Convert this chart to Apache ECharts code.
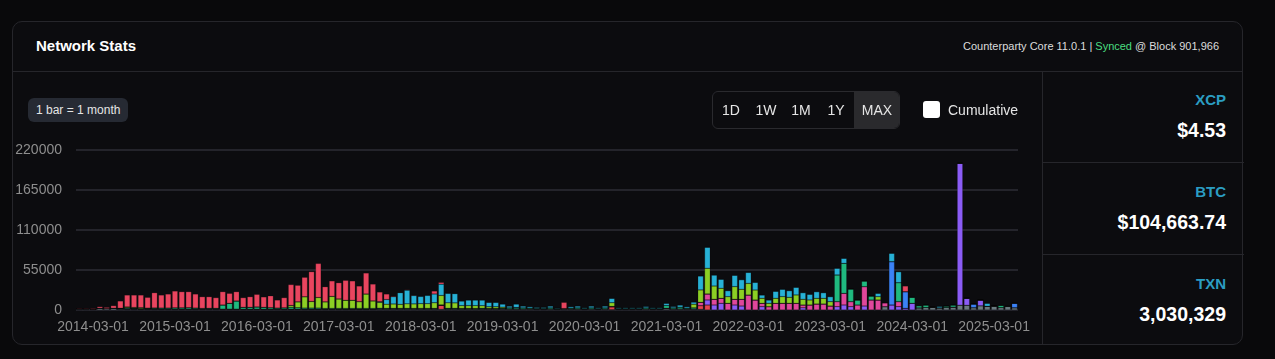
<!DOCTYPE html>
<html>
<head>
<meta charset="utf-8">
<script src="https://cdn.jsdelivr.net/npm/echarts@6/dist/echarts.min.js"></script>
<style>
  html, body { margin: 0; padding: 0; background: #09090b; width: 1275px; height: 359px; overflow: hidden; font-family: "Liberation Sans", Arial, Helvetica, sans-serif; }
  .card { position: absolute; left: 12px; top: 21px; width: 1231px; height: 324px; border: 1px solid #26262b; border-radius: 10px; background: #0c0c0f; box-sizing: border-box; }
  .hdr { position: absolute; left: 0; top: 0; right: 0; height: 49px; border-bottom: 1px solid #26262b; }
  .title { position: absolute; left: 23px; top: 15px; color: #fff; font-weight: bold; font-size: 15px; }
  .status { position: absolute; right: 23px; top: 18px; color: #dcdcdc; font-size: 11px; }
  .status .ok { color: #4ade80; }
  .side { position: absolute; left: 1029px; top: 49px; width: 201px; bottom: 0; border-left: 1px solid #26262b; }
  .cell { position: absolute; left: 0; right: 0; height: 91px; text-align: right; }
  .cell.b { border-top: 1px solid #26262b; }
  .lab { position: absolute; right: 18px; top: 20px; color: #2b9dc2; font-weight: bold; font-size: 15px; }
  .val { position: absolute; right: 18px; top: 48px; color: #fff; font-weight: bold; font-size: 19.5px; }
  .badge { position: absolute; left: 28px; top: 98px; height: 24px; line-height: 24px; padding: 0 8px; background: #262a33; border-radius: 6px; color: #e5e5e5; font-size: 12px; z-index: 2; }
  .btns { position: absolute; left: 712px; top: 91px; width: 188px; height: 38px; border: 1px solid #2a2a2e; border-radius: 6px; box-sizing: border-box; overflow: hidden; z-index: 2; }
  .btn { position: absolute; top: 0; height: 36px; line-height: 36px; color: #e5e5e5; font-size: 14px; text-align: center; }
  .btn.on { background: #2a2a2d; }
  .chk { position: absolute; left: 923px; top: 101px; width: 17px; height: 17px; background: #fff; border-radius: 3px; z-index: 2; }
  .cum { position: absolute; left: 948px; top: 102px; color: #e5e5e5; font-size: 14px; z-index: 2; }
  #chart { position: absolute; left: 0; top: 0; width: 1275px; height: 359px; z-index: 1; }
</style>
</head>
<body>
<div class="card">
  <div class="hdr">
    <div class="title">Network Stats</div>
    <div class="status">Counterparty Core 11.0.1 | <span class="ok">Synced</span> @ Block 901,966</div>
  </div>
  <div class="side">
    <div class="cell" style="top:0"><div class="lab">XCP</div><div class="val">$4.53</div></div>
    <div class="cell b" style="top:91px"><div class="lab">BTC</div><div class="val">$104,663.74</div></div>
    <div class="cell b" style="top:183px"><div class="lab">TXN</div><div class="val">3,030,329</div></div>
  </div>
</div>
<div class="badge">1 bar = 1 month</div>
<div class="btns">
  <div class="btn" style="left:1px;width:34px">1D</div>
  <div class="btn" style="left:35px;width:36px">1W</div>
  <div class="btn" style="left:71px;width:34px">1M</div>
  <div class="btn" style="left:105px;width:36px">1Y</div>
  <div class="btn on" style="left:141px;width:46px">MAX</div>
</div>
<div class="chk"></div>
<div class="cum">Cumulative</div>
<div id="chart"></div>
<script>
// Monthly categories: 2014-01 .. 2025-06 (138 bars)
const categories = [];
for (let y = 2014; y <= 2025; y++) {
  for (let m = 1; m <= 12; m++) {
    if (y === 2025 && m > 6) break;
    categories.push(y + '-' + String(m).padStart(2, '0') + '-01');
  }
}
const yTicks = [0, 55000, 110000, 165000, 220000];

const other = [
1500,1500,1000,2500,2000,2500,1500,1200,1200,1200,
1200,1200,1200,1200,1200,1200,1200,1200,1200,1200,
1200,1200,1200,1200,1200,1200,1200,1200,1200,1200,
1200,1200,1200,1200,1200,1200,1200,1200,1200,1200,
1200,1200,1200,1200,1500,1500,1500,1500,1500,1500,
1500,1500,1500,1000,1500,1500,1500,1500,1500,1500,
1500,1500,1500,1500,1500,1500,1400,1200,1200,1500,
1000,1500,1400,1500,1100,1500,1100,1500,500,1100,
1100,1100,1100,1500,1100,1100,1500,1500,1500,1400,
1500,1000,0,0,0,0,0,0,0,0,
0,0,0,0,0,0,0,0,0,0,
0,0,0,0,0,0,0,0,4600,0,
0,0,0,3000,3500,3700,3000,3500,4000,6700,
6500,3250,5750,5200,5500,3400,5000,3200];

const redBase = [
0,0,0,0,0,0,0,0,0,0,
0,0,0,0,0,0,0,0,0,0,
0,0,0,0,0,0,0,0,0,0,
0,0,0,0,0,0,0,0,0,0,
0,0,0,0,0,0,0,0,0,0,
0,0,0,5500,0,0,0,0,0,0,
0,0,0,0,0,0,0,0,0,0,
0,0,0,0,0,0,0,0,4000,0,
0,0,0,0,0,0,1000,0,0,0,
0,5000,6900,0,0,0,0,0,0,0,
0,0,0,0,0,0,0,0,0,0,
0,0,0,0,0,0,0,0,0,0,
0,0,0,0,0,0,0,0,0,0,
0,0,0,0,0,0,0,0];

const purple = [
0,0,0,0,0,0,0,0,0,0,
0,0,0,0,0,0,0,0,0,0,
0,0,0,0,0,0,0,0,0,0,
0,0,0,0,0,0,0,0,0,0,
0,0,0,0,0,0,0,0,0,0,
0,0,0,0,0,0,0,0,0,0,
0,0,0,0,0,0,0,0,0,0,
0,0,0,0,0,0,0,0,0,0,
0,0,0,0,0,0,0,0,0,0,
0,0,6900,6900,9200,0,6900,5500,0,0,
4600,0,0,0,0,0,3000,0,0,0,
0,4600,6900,4600,0,5500,0,0,0,6900,
4600,2300,9200,0,0,0,0,0,0,195000,
9600,0,8000,0,0,0,0,0];

const magenta = [
0,0,0,0,0,0,0,0,0,0,
0,0,0,0,0,0,0,0,0,0,
0,0,0,0,0,0,0,0,0,0,
0,0,0,0,0,0,0,0,0,0,
0,0,0,0,0,0,0,0,0,0,
0,0,0,0,0,0,0,0,0,0,
0,0,0,0,0,0,0,0,0,0,
0,0,0,0,0,0,0,0,0,0,
0,0,0,0,0,0,0,0,0,0,
0,4600,8250,7800,6900,9200,7800,9200,20600,13750,
4600,4600,9200,9200,9200,9200,3900,6900,8250,8250,
5500,6900,16000,6900,6900,26600,13750,13750,5500,0,
6900,0,0,0,0,0,0,0,0,0,
0,0,0,0,0,0,0,0];

const blue = [
0,0,0,0,0,0,0,800,500,0,
0,0,0,0,0,0,0,0,0,0,
0,0,0,0,0,0,0,0,0,0,
0,0,0,0,0,0,0,0,0,0,
0,0,0,0,0,0,0,0,0,0,
0,0,0,0,0,0,0,0,0,0,
0,0,0,0,0,0,0,0,0,0,
0,0,0,0,0,0,0,0,0,0,
0,0,0,0,0,0,0,0,0,0,
0,0,0,0,0,0,0,0,0,0,
0,0,0,0,0,0,0,0,0,0,
0,0,0,0,0,0,0,0,0,59600,
0,22900,0,0,0,0,0,0,0,0,
0,5000,0,0,0,0,0,6000];

const green = [
0,0,0,0,0,0,500,1000,800,800,
800,1200,1500,1500,1800,1800,2000,1500,1000,1200,
1200,5700,8000,11200,2500,2500,3000,2500,2000,1500,
1800,2500,2000,1500,1500,1500,1000,1000,1000,1000,
1000,1000,1000,1000,1000,800,800,800,800,700,
700,700,800,500,900,900,700,700,700,900,
700,700,900,1500,1500,1500,1200,1000,1000,1500,
800,500,1200,1500,900,1500,900,1500,500,900,
900,900,900,1500,900,900,3700,1500,2400,1200,
1500,0,0,0,0,0,0,0,0,0,
0,0,0,0,0,0,0,0,0,0,
0,36700,41250,17400,6900,7800,5500,0,0,0,
26100,0,8250,3000,3400,0,0,2000,2900,0,
0,0,0,0,0,3000,0,0];

const lime = [
0,0,0,0,0,0,500,1200,1000,1200,
600,400,0,0,0,0,0,0,0,0,
0,0,0,0,0,0,0,0,0,0,
0,2500,8000,15500,9000,14500,9000,16500,13000,11200,
11200,9300,19800,10300,8000,5700,6000,5500,6200,6200,
6500,6500,7700,13000,7500,7400,3800,3800,3800,3500,
2300,2300,1500,0,500,0,0,0,0,0,
0,0,0,0,0,0,0,0,5000,0,
0,0,0,0,0,0,0,0,0,0,
5000,17000,35300,18300,13750,9200,17400,13750,16000,13750,
6900,4600,6900,9200,8250,11500,7800,6900,7800,7800,
6000,0,0,0,0,0,0,4600,0,0,
0,0,0,0,0,0,0,0,0,0,
0,0,0,0,0,0,0,0];

const cyan = [
0,0,0,0,0,0,0,0,0,0,
0,0,0,0,0,0,0,0,0,0,
0,0,0,0,0,0,0,0,0,0,
0,0,0,0,0,0,0,0,0,0,
0,0,0,0,1000,6400,10000,16000,18800,11500,
10000,11400,12000,15500,13000,12700,6400,7750,7750,7850,
6000,6000,4350,2500,4750,2500,2000,1500,1500,2500,
950,0,2000,2500,1200,2500,1200,2500,6000,1200,
1200,1200,1200,2000,1200,1200,3000,2000,3000,2000,
3000,19250,28900,15100,12400,8250,15600,13300,15100,10500,
4600,4600,9600,10100,9200,10500,9200,7800,9200,7800,
6900,9200,6900,0,0,0,0,4600,0,11500,
15100,0,0,0,0,0,2000,0,0,0,
0,0,0,4000,0,0,0,0];

const send = [
800,800,1000,2100,1700,3500,9900,16400,17100,17400,
14800,21000,17900,19300,23100,22200,22000,19300,16100,15900,
14600,18300,13700,12800,13300,14600,17300,14300,16300,11050,
14000,28800,22800,26800,41000,46800,20800,21300,22300,27400,
26600,21500,28900,23200,13250,7600,950,500,700,700,
550,500,4100,2500,500,500,0,0,0,0,
0,0,0,0,0,0,0,0,0,0,
0,8500,0,0,0,0,0,0,0,0,
0,0,0,0,0,0,0,0,0,0,
0,0,0,0,0,0,0,0,0,0,
0,0,0,0,0,0,0,0,0,0,
0,0,0,0,0,0,0,0,0,0,
0,7800,0,0,0,0,0,0,0,0,
0,0,0,0,0,0,0,0];

const seriesDefs = [
  ['Other', other, '#6b7a80'],
  ['BTC Pay', redBase, '#e5434f'],
  ['Fairmint', purple, '#8b5cf6'],
  ['Dispense', magenta, '#e0479c'],
  ['Attach', blue, '#3b82f6'],
  ['Order', green, '#1fb97f'],
  ['Issuance', lime, '#8ccf24'],
  ['Dispenser', cyan, '#27b1d6'],
  ['Send', send, '#e9455f']
];

const chart = echarts.init(document.getElementById('chart'), null, { renderer: 'canvas' });
chart.setOption({
  backgroundColor: 'transparent',
  animation: false,
  grid: { left: 76, right: 257, top: 150, bottom: 49 },
  xAxis: {
    type: 'category',
    data: categories,
    axisLine: { show: false },
    axisTick: { show: false },
    axisLabel: {
      interval: function (idx) { return idx % 12 === 2; },
      color: '#8e8e8e', fontSize: 14, margin: 10,
      fontFamily: 'Liberation Sans, Arial, sans-serif'
    }
  },
  yAxis: {
    type: 'value',
    min: yTicks[0], max: yTicks[yTicks.length - 1], interval: 55000,
    axisLine: { show: false },
    axisTick: { show: false },
    splitLine: { lineStyle: { color: '#2c2c36', width: 1.5 } },
    axisLabel: {
      color: '#8e8e8e', fontSize: 14, margin: 14,
      fontFamily: 'Liberation Sans, Arial, sans-serif',
      formatter: function (v) { return String(v); }
    }
  },
  series: seriesDefs.map(function (d) {
    return {
      name: d[0], type: 'bar', stack: 'total', data: d[1],
      barCategoryGap: '18%',
      itemStyle: { color: d[2], borderColor: 'rgba(12,12,15,0.55)', borderWidth: 0.4 }
    };
  })
});
</script>
</body>
</html>
